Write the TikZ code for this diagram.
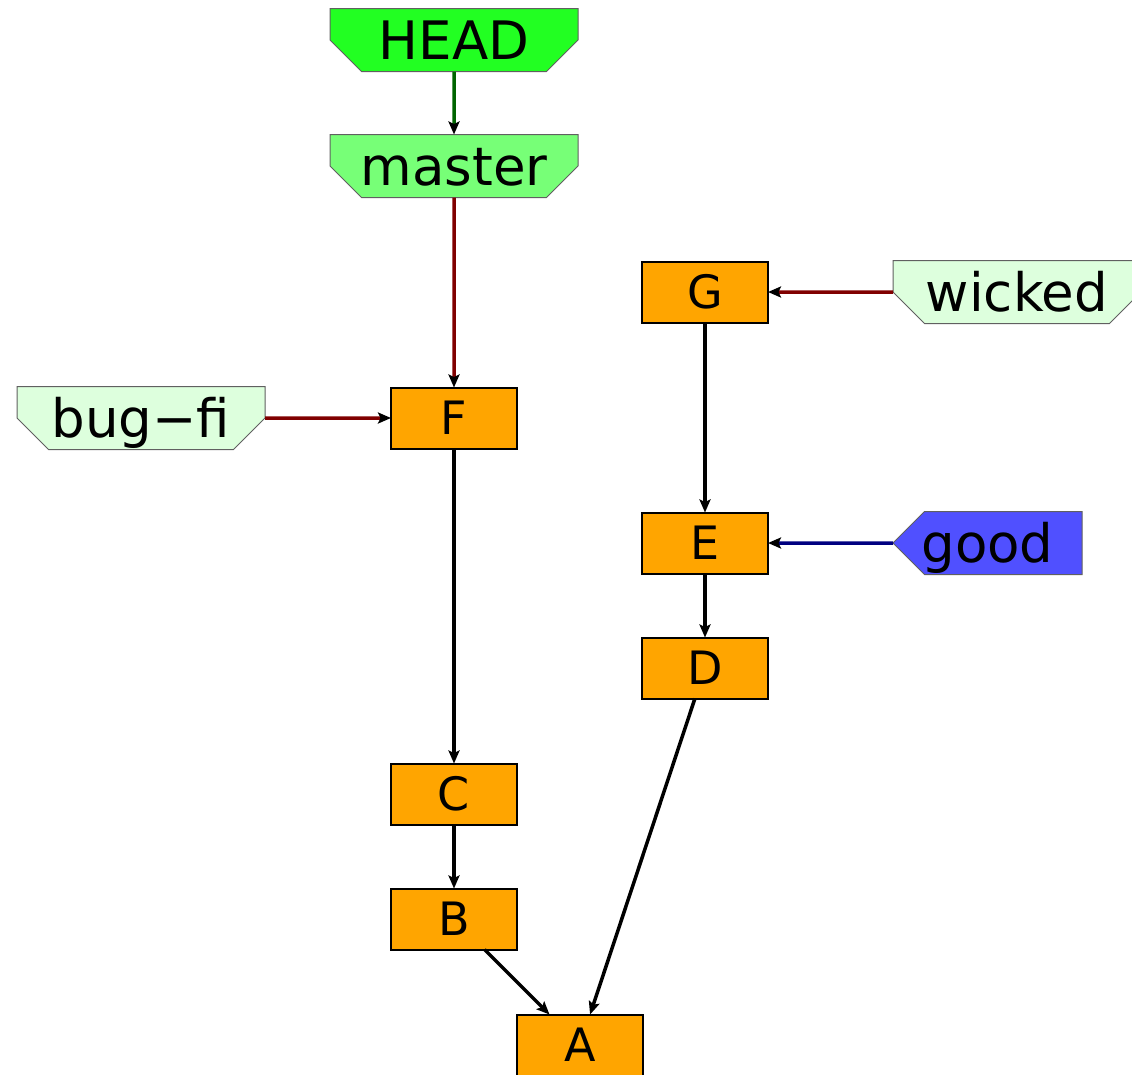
\documentclass[tikz,border=0pt]{standalone}
\usepackage{fontspec}
\setmainfont{DejaVu Sans}
\usetikzlibrary{positioning, arrows.meta, shapes.misc}

\definecolor{headfill}{HTML}{22FF22}
\definecolor{masterfill}{HTML}{77FF77}
\definecolor{branchfill}{HTML}{DDFFDD}
\definecolor{goodfill}{HTML}{5050FF}
\definecolor{commitfill}{HTML}{FFA500}
\definecolor{headline}{HTML}{006400}
\definecolor{branchline}{HTML}{800000}
\definecolor{goodline}{HTML}{000080}
\definecolor{refborder}{HTML}{606060}

\begin{document}
\begin{tikzpicture}
    [x=1pt, y=-1pt,
    commitnode/.style={rectangle, draw=black, line width=2pt, fill=commitfill,
        minimum width=126pt, minimum height=61pt, inner sep=0pt, outer sep=0pt,
        text height=33pt, text depth=0pt, font=\fontsize{46pt}{50pt}\selectfont},
    refnode/.style={chamfered rectangle, draw=refborder, line width=1pt,
        chamfered rectangle xsep=30pt, chamfered rectangle ysep=30pt,
        chamfered rectangle corners={south west, south east},
        minimum width=248pt, minimum height=63pt, inner xsep=0pt, inner ysep=-17.5pt,
        outer sep=0pt, text height=38pt, text depth=0pt,
        font=\fontsize{53pt}{60pt}\selectfont},
    goodnode/.style={refnode, chamfered rectangle ysep=19pt, inner ysep=-6.5pt,
        chamfered rectangle corners={north west, south west}, minimum width=189pt},
    edge/.style={line width=3.5pt, -{Stealth[black, length=13pt, width=11pt, inset=2.5pt]}},]

    \useasboundingbox (0,0) rectangle (1132,1074);

    %Nodes
    \node[refnode, fill=headfill](HEAD) at (454,40){HEAD};
    \node[refnode, fill=masterfill](master)[below=63pt of HEAD]{master};
    \node[commitnode](F)[below=190pt of master]{F};
    \node[commitnode](C)[below=315pt of F]{C};
    \node[commitnode](B)[below=64pt of C]{B};
    \node[commitnode](A)[below right=65pt and 0pt of B]{A};

    \node[commitnode](G) at (705,292){G};
    \node[commitnode](E)[below=190pt of G]{E};
    \node[commitnode](D)[below=64pt of E]{D};

    \node[refnode, fill=branchfill](bugfi)[left=126pt of F]{bug−fi};
    \node[refnode, fill=branchfill](wicked)[right=125pt of G]{wicked};
    \node[goodnode, fill=goodfill](good)[right=125pt of E]{good};

    %Lines
    \draw[edge, headline](HEAD)--(master);
    \draw[edge, branchline](master)--(F);
    \draw[edge, branchline](bugfi)--(F);
    \draw[edge, branchline](wicked)--(G);
    \draw[edge, goodline](good)--(E);

    \draw[edge](F)--(C);
    \draw[edge](C)--(B);
    \draw[edge](B)--(A);
    \draw[edge](G)--(E);
    \draw[edge](E)--(D);
    \draw[edge](D)--(A);

\end{tikzpicture}
\end{document}
